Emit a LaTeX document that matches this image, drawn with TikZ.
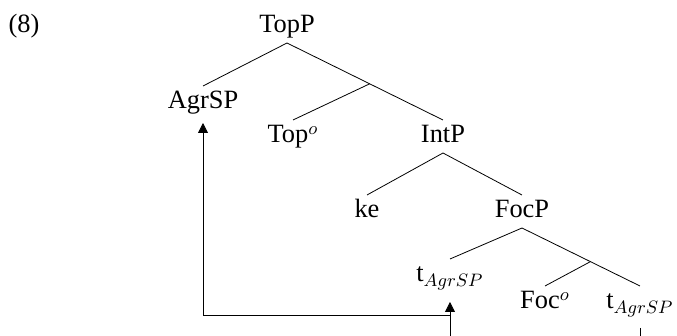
\documentclass[tikz,border=0pt]{standalone}
\usepackage{fontspec}
\setmainfont{Liberation Serif}
\usetikzlibrary{arrows.meta,calc}

\begin{document}
\begin{tikzpicture}[x=0.5pt,y=-0.5pt,>={Triangle[length=5pt,width=5pt]},
    every node/.style={font=\fontsize{13.2}{15}\selectfont},
    cat/.style={anchor=base,text height=9.5pt,text depth=3pt,inner sep=1.8pt}]
    \useasboundingbox (0,0) rectangle (677,336);

    \node[anchor=base] (ex) at (24,33) {(8)};

    %labelled nodes of the tree
    \node[cat] (TopP)  at (287,33)  {TopP};
    \node[cat] (AgrSP) at (203,109) {AgrSP};
    \node[cat] (Top)   at (293,143) {Top$^o$};
    \node[cat] (IntP)  at (443,143) {IntP};
    \node[cat] (ke)    at (367,218) {ke};
    \node[cat] (FocP)  at (522,218) {FocP};
    \node[cat] (t1)    at (450,282) {t$_{AgrSP}$};
    \node[cat] (Foc)   at (545,309) {Foc$^o$};
    \node[cat] (t2)    at (640,309) {t$_{AgrSP}$};

    %bar levels sit on the right branch
    \coordinate (Topbar) at ($(TopP.south)!0.53!(IntP.north)$);
    \coordinate (Focbar) at ($(FocP.south)!0.58!(t2.north)$);

    \draw (TopP.south) -- (AgrSP.north);
    \draw (TopP.south) -- (IntP.north);
    \draw (Topbar) -- (Top.north);
    \draw (IntP.south) -- (ke.north);
    \draw (IntP.south) -- (FocP.north);
    \draw (FocP.south) -- (t1.north);
    \draw (FocP.south) -- (t2.north);
    \draw (Focbar) -- (Foc.north);

    %movement arrows
    \coordinate (bottom) at (0,336);
    \coordinate (turn) at (0,315);
    \draw ([yshift=-4.5pt]t2.south) -- (t2.south |- bottom);
    \draw[->,shorten >=5pt] (t1.south |- bottom) -- (t1.south);
    \draw[->,shorten >=2pt] (t1.south |- turn) -| (AgrSP.south);
\end{tikzpicture}
\end{document}
